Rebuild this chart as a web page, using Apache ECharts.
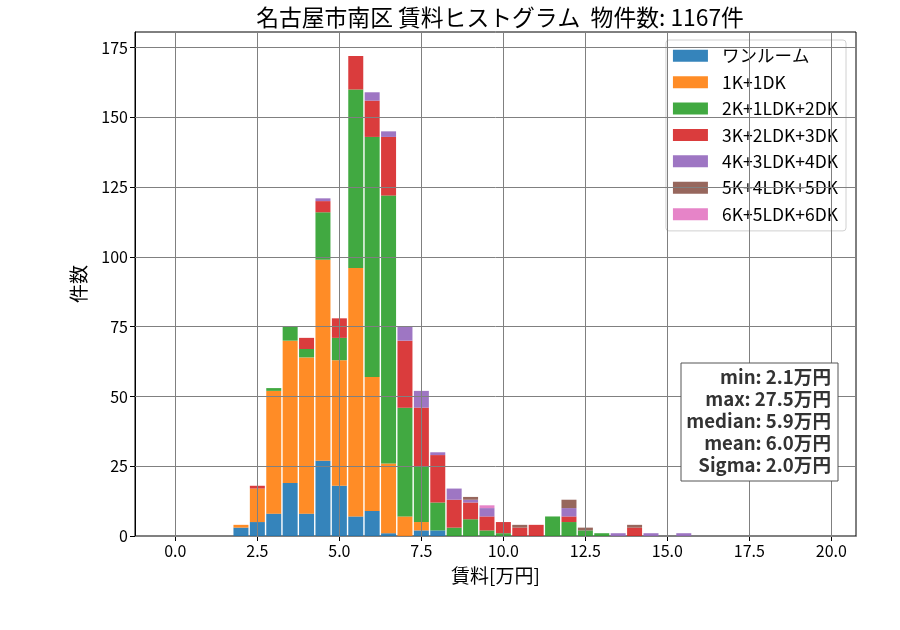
<!DOCTYPE html>
<html>
<head>
<meta charset="utf-8">
<script src="https://cdn.jsdelivr.net/npm/echarts@6/dist/echarts.min.js"></script>
<style>
  html, body { margin: 0; padding: 0; background: #fff; }
  #chart { width: 900px; height: 630px; }
</style>
</head>
<body>
<div id="chart"></div>
<script>
'use strict';

// bin centers (万円), width 0.5
var bins = [2.0, 2.5, 3.0, 3.5, 4.0, 4.5, 5.0, 5.5, 6.0, 6.5, 7.0, 7.5, 8.0, 8.5, 9.0, 9.5, 10.0, 10.5, 11.0, 11.5, 12.0, 12.5, 13.0, 13.5, 14.0, 14.5, 15.0, 15.5];

var oneRoom = [3, 5, 8, 19, 8, 27, 18, 7, 9, 1, 0, 2, 2, 0, 0, 0, 0, 0, 0, 0, 0, 0, 0, 0, 0, 0, 0, 0];
var k1 = [1, 12, 44, 51, 56, 72, 45, 89, 48, 25, 7, 3, 0, 0, 0, 0, 0, 0, 0, 0, 0, 0, 0, 0, 0, 0, 0, 0];
var k2 = [0, 0, 1, 5, 3, 17, 8, 64, 86, 96, 39, 20, 10, 3, 6, 2, 1, 0, 0, 7, 5, 2, 1, 0, 0, 0, 0, 0];
var k3 = [0, 1, 0, 0, 4, 4, 7, 12, 13, 21, 24, 21, 17, 10, 6, 5, 4, 3, 4, 0, 2, 0, 0, 0, 3, 0, 0, 0];
var k4 = [0, 0, 0, 0, 0, 1, 0, 0, 3, 2, 5, 6, 1, 4, 1, 3, 0, 0, 0, 0, 3, 0, 0, 1, 0, 1, 0, 1];
var k5 = [0, 0, 0, 0, 0, 0, 0, 0, 0, 0, 0, 0, 0, 0, 1, 0, 0, 1, 0, 0, 3, 1, 0, 0, 1, 0, 0, 0];
var k6 = [0, 0, 0, 0, 0, 0, 0, 0, 0, 0, 0, 0, 0, 0, 0, 1, 0, 0, 0, 0, 0, 0, 0, 0, 0, 0, 0, 0];

var seriesNames = ['ワンルーム', '1K+1DK', '2K+1LDK+2DK', '3K+2LDK+3DK', '4K+3LDK+4DK', '5K+4LDK+5DK', '6K+5LDK+6DK'];
var seriesValues = [oneRoom, k1, k2, k3, k4, k5, k6];
var colors = ['#1f77b4', '#ff7f0e', '#2ca02c', '#d62728', '#9467bd', '#8c564b', '#e377c2'];

var xTicks = [0, 2.5, 5, 7.5, 10, 12.5, 15, 17.5, 20];
var yTicks = [0, 25, 50, 75, 100, 125, 150, 175];

var statsLines = ['min: 2.1万円', 'max: 27.5万円', 'median: 5.9万円', 'mean: 6.0万円', 'Sigma: 2.0万円'];

var FONT = '"Noto Sans CJK JP", "Noto Sans", sans-serif';
var BAR_PX = 15;

var myChart = echarts.init(document.getElementById('chart'), null, { renderer: 'canvas' });

// stacked bars: each item is [center, base, top]
function renderStackBar(params, api) {
  var x = api.value(0);
  var p0 = api.coord([x, api.value(1)]);
  var p1 = api.coord([x, api.value(2)]);
  return {
    type: 'rect',
    shape: { x: p0[0] - BAR_PX / 2, y: p1[1], width: BAR_PX, height: p0[1] - p1[1] },
    style: { fill: api.visual('color'), opacity: 0.9 }
  };
}

var base = bins.map(function () { return 0; });
var series = seriesValues.map(function (vals, i) {
  var data = [];
  bins.forEach(function (b, j) {
    if (vals[j] > 0) {
      data.push([b, base[j], base[j] + vals[j]]);
    }
    base[j] += vals[j];
  });
  return {
    name: seriesNames[i],
    type: 'custom',
    renderItem: renderStackBar,
    itemStyle: { color: colors[i], opacity: 0.9 },
    encode: { x: 0, y: [1, 2] },
    data: data
  };
});

// grid lines drawn over the bars (like matplotlib)
series.push({
  name: 'grid',
  type: 'line',
  data: [],
  z: 10,
  silent: true,
  markLine: {
    silent: true,
    symbol: 'none',
    label: { show: false },
    animation: false,
    lineStyle: { color: '#808080', width: 1, type: 'solid' },
    data: xTicks.map(function (v) { return { xAxis: v }; })
      .concat(yTicks.map(function (v) { return { yAxis: v }; }))
  }
});

// stats box
var statsGraphic = [{
  type: 'rect',
  z: 100,
  shape: { x: 681, y: 363, width: 157, height: 118 },
  style: { fill: '#fff', stroke: '#555', lineWidth: 1 }
}];
statsLines.forEach(function (t, i) {
  statsGraphic.push({
    type: 'text',
    z: 101,
    x: 831,
    y: 377 + i * 22,
    style: {
      text: t,
      font: 'bold 18.6px ' + FONT,
      fill: '#333',
      align: 'right',
      verticalAlign: 'middle'
    }
  });
});

var option = {
  animation: false,
  title: {
    text: '名古屋市南区 賃料ヒストグラム  物件数: 1167件',
    left: 495,
    top: 1,
    textAlign: 'center',
    textStyle: { fontFamily: FONT, fontSize: 22.8, fontWeight: 'normal', color: '#000' }
  },
  grid: {
    left: 135,
    right: 44,
    top: 32,
    bottom: 94,
    show: true,
    borderColor: '#000',
    borderWidth: 1,
    backgroundColor: 'transparent'
  },
  legend: {
    data: seriesNames,
    orient: 'vertical',
    right: 54,
    top: 40,
    align: 'left',
    icon: 'rect',
    itemWidth: 35,
    itemHeight: 12,
    itemGap: 8.9,
    padding: [7, 8, 8, 7],
    backgroundColor: 'rgba(255,255,255,0.8)',
    borderColor: '#d0d0d0',
    borderWidth: 1,
    borderRadius: 3,
    selectedMode: false,
    textStyle: { fontFamily: FONT, fontSize: 17.5, color: '#000', padding: [0, 0, 0, 9] }
  },
  xAxis: {
    type: 'value',
    min: -1.23,
    max: 20.75,
    name: '賃料[万円]',
    nameLocation: 'middle',
    nameGap: 30,
    nameTextStyle: { fontFamily: FONT, fontSize: 19, color: '#000' },
    axisLine: { onZero: false, lineStyle: { color: '#000', width: 1 } },
    axisTick: { show: true, length: 5, customValues: xTicks, lineStyle: { color: '#000' } },
    axisLabel: {
      customValues: xTicks,
      fontFamily: FONT,
      fontSize: 16,
      color: '#000',
      margin: 7,
      formatter: function (v) { return v.toFixed(1); }
    },
    splitLine: { show: false }
  },
  yAxis: {
    type: 'value',
    min: 0,
    max: 180.6,
    name: '件数',
    nameLocation: 'middle',
    nameGap: 47,
    nameTextStyle: { fontFamily: FONT, fontSize: 19, color: '#000' },
    axisLine: { show: true, onZero: false, lineStyle: { color: '#000', width: 1 } },
    axisTick: { show: true, length: 5, customValues: yTicks, lineStyle: { color: '#000' } },
    axisLabel: {
      customValues: yTicks,
      fontFamily: FONT,
      fontSize: 16,
      color: '#000',
      margin: 7
    },
    splitLine: { show: false }
  },
  graphic: statsGraphic,
  series: series
};

myChart.setOption(option);

window.addEventListener('resize', function () {
  myChart.resize();
});
</script>
</body>
</html>
